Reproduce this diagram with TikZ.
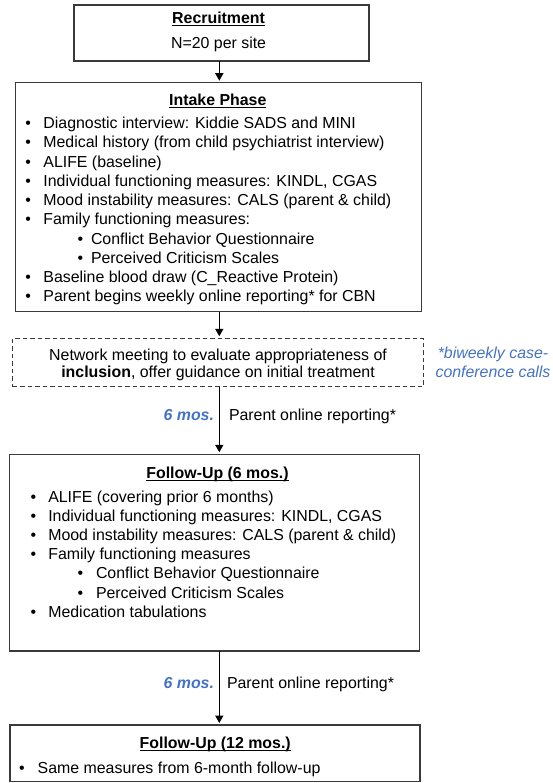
\documentclass[tikz,border=0pt]{standalone}
\usepackage{fontspec}
\setmainfont{Liberation Sans}
\usetikzlibrary{arrows.meta}
\definecolor{obl}{HTML}{4472C4}
\definecolor{bord}{HTML}{3A3A3A}
\newsavebox\myulbox
\newcommand{\myul}[1]{\sbox\myulbox{#1}\rlap{\rule[-2.2pt]{\wd\myulbox}{0.9pt}}\usebox\myulbox}
\begin{document}
\begin{tikzpicture}[x=1pt,y=-1pt,
  every node/.style={font=\fontsize{15.9}{19}\selectfont, inner sep=0pt, outer sep=0pt},
  box/.style={draw=bord, line width=1.5pt, rectangle, anchor=north west},
  dbox/.style={draw=bord, line width=1.5pt, rectangle, anchor=north west, dash pattern=on 4.5pt off 3pt},
  txt/.style={anchor=base west},
  ctr/.style={anchor=base},
  bul/.style={anchor=base},
  arr/.style={line width=1.6pt, -{Triangle[width=8pt,length=7.5pt]}, shorten >=2pt},
  note/.style={text=obl, font=\fontsize{15.9}{19}\selectfont\itshape, anchor=base},
  mos/.style={text=obl, font=\fontsize{15.9}{19}\selectfont\itshape\bfseries, anchor=base east}
]
\useasboundingbox (0,0) rectangle (553,783);
\coordinate (ax) at (219.3,0);

% boxes
\node[box, minimum width=295pt, minimum height=56pt] (rec) at (74,5) {};
\node[box, minimum width=406pt, minimum height=228.8pt] (intake) at (15.5,82.7) {};
\node[dbox, minimum width=410.6pt, minimum height=48.4pt] (net) at (12.7,338.3) {};
\node[box, minimum width=410pt, minimum height=196.7pt] (fu6) at (9.5,454.3) {};
\node[box, minimum width=410.3pt, minimum height=56.7pt] (fu12) at (9.9,725) {};

% connectors
\draw[arr] (rec.south -| ax) -- (intake.north -| ax);
\draw[arr] (intake.south -| ax) -- (net.north -| ax);
\draw[arr] (net.south -| ax) -- (fu6.north -| ax);
\draw[arr] (fu6.south -| ax) -- (fu12.north -| ax);

% recruitment
\node[ctr] (rect) at (218.6,23.8) {\myul{\textbf{Recruitment}}};
\node[ctr] (recn) at (218.6,48.8) {N=20 per site};

% intake
\node[ctr] (intt) at (217.8,105.5) {\myul{\textbf{Intake Phase}}};
\foreach \i/\t in {0/{Diagnostic interview: Kiddie SADS and MINI},
                   1/{Medical history (from child psychiatrist interview)},
                   2/{ALIFE (baseline)},
                   3/{Individual functioning measures: KINDL, CGAS},
                   4/{Mood instability measures: CALS (parent \& child)},
                   5/{Family functioning measures:},
                   8/{Baseline blood draw (C\_Reactive Protein)},
                   9/{Parent begins weekly online reporting* for CBN}} {
  \node[bul] (ib\i) at (28.2,128.8+19.2*\i) {•};
  \node[txt] (it\i) at (43.4,128.8+19.2*\i) {\t};
}
\foreach \i/\t in {6/{Conflict Behavior Questionnaire},
                   7/{Perceived Criticism Scales}} {
  \node[bul] (ib\i) at (80.4,128.8+19.2*\i) {•};
  \node[txt] (it\i) at (91,128.8+19.2*\i) {\t};
}

% network meeting
\node[ctr] (net1) at (218,360.5) {Network meeting to evaluate appropriateness of};
\node[ctr] (net2) at (218,377.5) {\textbf{inclusion}, offer guidance on initial treatment};
\node[note] (nt1) at (493,358.5) {*biweekly case-};
\node[note] (nt2) at (493,377.2) {conference calls};

% 6 mos labels
\node[mos] (m1) at (214,420.5) {6 mos.};
\node[txt] (p1) at (229,420.5) {Parent online reporting*};
\node[mos] (m2) at (214,688.8) {6 mos.};
\node[txt] (p2) at (227,688.8) {Parent online reporting*};

% follow-up 6
\node[ctr] (f6t) at (217.5,478.8) {\myul{\textbf{Follow-Up (6 mos.)}}};
\foreach \i/\t in {0/{ALIFE (covering prior 6 months)},
                   1/{Individual functioning measures: KINDL, CGAS},
                   2/{Mood instability measures: CALS (parent \& child)},
                   3/{Family functioning measures},
                   6/{Medication tabulations}} {
  \node[bul] (fb\i) at (33.5,502.2+19.17*\i) {•};
  \node[txt] (ft\i) at (48.3,502.2+19.17*\i) {\t};
}
\foreach \i/\t in {4/{Conflict Behavior Questionnaire},
                   5/{Perceived Criticism Scales}} {
  \node[bul] (fb\i) at (80.4,502.2+19.17*\i) {•};
  \node[txt] (ft\i) at (96,502.2+19.17*\i) {\t};
}

% follow-up 12
\node[ctr] (f12t) at (215.2,748.8) {\myul{\textbf{Follow-Up (12 mos.)}}};
\node[bul] (gb) at (21.9,773.8) {•};
\node[txt] (gt) at (37.7,773.8) {Same measures from 6-month follow-up};
\end{tikzpicture}
\end{document}
